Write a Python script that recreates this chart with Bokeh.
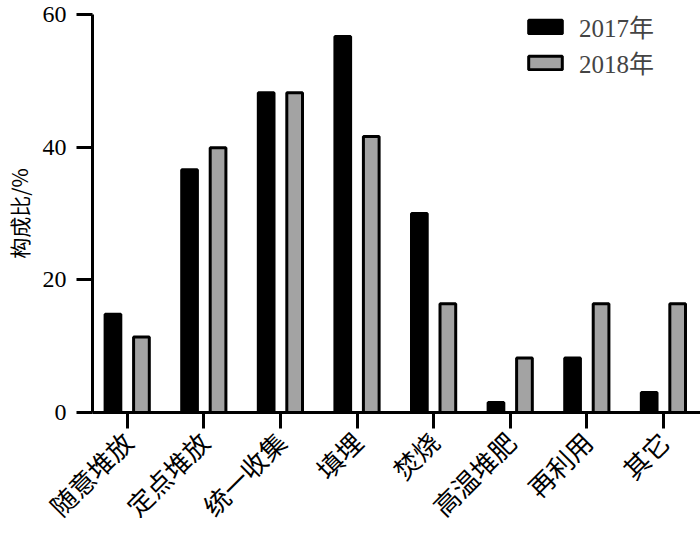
from math import pi
from bokeh.plotting import figure
from bokeh.models import Range1d, FixedTicker, Legend, LegendItem
from bokeh.embed import file_html
from bokeh.resources import INLINE

categories = ["随意堆放", "定点堆放", "统一收集", "填埋", "焚烧", "高温堆肥", "再利用", "其它"]
values_2017 = [14.8, 36.6, 48.2, 56.7, 30.0, 1.5, 8.2, 3.0]
values_2018 = [11.4, 39.9, 48.2, 41.6, 16.4, 8.2, 16.4, 16.4]
series_names = ["2017年", "2018年"]
y_ticks = [0, 20, 40, 60]

n = len(categories)
idx = list(range(n))
x17 = [i - 0.186 for i in idx]
x18 = [i + 0.186 for i in idx]

CJK = "Noto Sans CJK SC"
SERIF = "Liberation Serif"

p = figure(width=700, height=554, output_backend="svg", toolbar_location=None,
           x_range=Range1d(-0.453, 7.484), y_range=Range1d(0, 60),
           min_border_left=92, min_border_right=0, min_border_top=14,
           min_border_bottom=142)
p.outline_line_color = None
p.xgrid.grid_line_color = None
p.ygrid.grid_line_color = None
p.background_fill_color = "white"

r17 = p.vbar(x=x17, top=values_2017, width=0.205, bottom=0,
             fill_color="black", line_color="black", line_width=3)
r18 = p.vbar(x=x18, top=values_2018, width=0.205, bottom=0,
             fill_color="#a3a3a3", line_color="black", line_width=3)

# axes
for ax in (p.xaxis[0], p.yaxis[0]):
    ax.axis_line_width = 3
    ax.major_tick_line_width = 3
    ax.major_tick_out = 16
    ax.major_tick_in = 0
    ax.minor_tick_line_color = None
    ax.axis_line_color = "black"
    ax.major_tick_line_color = "black"
    ax.major_label_text_color = "black"

p.xaxis.ticker = FixedTicker(ticks=idx)
p.xaxis.major_label_overrides = {i: c for i, c in zip(idx, categories)}
p.xaxis.major_label_orientation = pi / 4
p.xaxis.major_label_text_font = CJK
p.xaxis.major_label_text_font_size = "26px"
p.xaxis.major_label_standoff = 8

p.yaxis.ticker = FixedTicker(ticks=y_ticks)
p.yaxis.major_label_text_font = SERIF
p.yaxis.major_label_text_font_size = "24px"
p.yaxis.major_label_standoff = 10
p.yaxis.axis_label = "构成比/%"
p.yaxis.axis_label_text_font = CJK
p.yaxis.axis_label_text_font_style = "normal"
p.yaxis.axis_label_text_color = "black"
p.yaxis.axis_label_text_font_size = "21px"
p.yaxis.axis_label_standoff = 6

legend = Legend(items=[LegendItem(label=series_names[0], renderers=[r17]),
                       LegendItem(label=series_names[1], renderers=[r18])],
                location=(432, 332))
legend.border_line_color = None
legend.background_fill_alpha = 0
legend.padding = 0
legend.margin = 0
legend.glyph_width = 42
legend.glyph_height = 17
legend.label_standoff = 13
legend.spacing = 0
legend.label_text_font = "Liberation Serif, Noto Sans CJK SC"
legend.label_text_font_size = "25px"
p.add_layout(legend)

open("out.html", "w").write(file_html(p, INLINE))
